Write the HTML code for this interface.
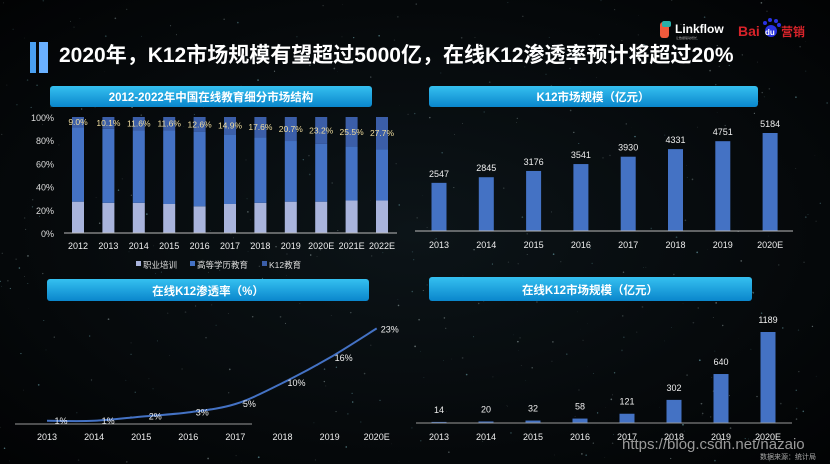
<!DOCTYPE html>
<html><head><meta charset="utf-8"><style>
html,body{margin:0;padding:0;background:#05080c;}
svg{display:block;font-family:"Liberation Sans","Noto Sans CJK SC",sans-serif;}
</style></head><body>
<svg id="s" width="830" height="464" viewBox="0 0 830 464">
<defs>
<linearGradient id="hdr" x1="0" y1="0" x2="0" y2="1"><stop offset="0" stop-color="#35c0f0"/><stop offset="1" stop-color="#0a86cc"/></linearGradient>
<radialGradient id="bg" cx="0.5" cy="0.5" r="0.7"><stop offset="0" stop-color="#0c1418"/><stop offset="1" stop-color="#020304"/></radialGradient>
</defs>
<rect width="830" height="464" fill="url(#bg)"/>
<g id="stars"></g>
<rect x="30" y="42" width="6" height="31" fill="#4a9ff0"/>
<rect x="39" y="42" width="9" height="31" fill="#6ab0ff"/>
<text x="59" y="62" fill="#fff" font-size="21" font-weight="bold">2020年，K12市场规模有望超过5000亿，在线K12渗透率预计将超过20%</text>
<g>
<rect x="660" y="22" width="9" height="16" rx="3" fill="#f05a3c"/><rect x="662" y="21" width="9" height="6" rx="2" fill="#2ab0a8"/>
<text x="675" y="33" fill="#fff" font-size="12" font-weight="bold">Linkflow</text>
<text x="676" y="39" fill="#aaa" font-size="3">让数据驱动增长</text>
</g>
<g>
<text x="738" y="36" fill="#d8232a" font-size="14" font-weight="bold">Bai</text>
<circle cx="771" cy="31" r="6" fill="#2932e1"/><circle cx="765" cy="23" r="2" fill="#2932e1"/><circle cx="770" cy="20" r="2" fill="#2932e1"/><circle cx="776" cy="21" r="2" fill="#2932e1"/><circle cx="779" cy="25" r="2" fill="#2932e1"/>
<text x="765" y="35" fill="#fff" font-size="8" font-weight="bold">du</text>
<text x="781" y="36" fill="#d8232a" font-size="12" font-weight="bold">营销</text>
</g>
<g><rect x="50" y="86" width="322" height="21" rx="3" fill="url(#hdr)"/><text x="211" y="101" fill="#fff" font-size="11.5" font-weight="bold" text-anchor="middle">2012-2022年中国在线教育细分市场结构</text></g>
<g><rect x="429" y="86" width="329" height="21" rx="3" fill="url(#hdr)"/><text x="593" y="101" fill="#fff" font-size="11.5" font-weight="bold" text-anchor="middle">K12市场规模（亿元）</text></g>
<g><rect x="47" y="279" width="322" height="22" rx="3" fill="url(#hdr)"/><text x="208" y="295" fill="#fff" font-size="11.5" font-weight="bold" text-anchor="middle">在线K12渗透率（%）</text></g>
<g><rect x="429" y="277" width="323" height="24" rx="3" fill="url(#hdr)"/><text x="590" y="294" fill="#fff" font-size="11.5" font-weight="bold" text-anchor="middle">在线K12市场规模（亿元）</text></g>
<g id="c1"></g><g id="c2"></g><g id="c3"></g><g id="c4"></g>
<text x="622" y="449" fill="#9a9a9a" font-size="15">https://blog.csdn.net/nazaio</text>
<text x="760" y="459" fill="#aaa" font-size="7">数据来源：统计局</text>
</svg>
<script>
const NS="http://www.w3.org/2000/svg";
// Chart 1 data
const years1=["2012","2013","2014","2015","2016","2017","2018","2019","2020E","2021E","2022E"];
const vocShare=[27,26,26,25,23,25,26,27,27,28,28];
const k12Share=[9.0,10.1,11.6,11.6,12.6,14.9,17.6,20.7,23.2,25.5,27.7];
const yTicks1=["0%","20%","40%","60%","80%","100%"];
// Chart 2 data
const years2=["2013","2014","2015","2016","2017","2018","2019","2020E"];
const k12Market=[2547,2845,3176,3541,3930,4331,4751,5184];
// Chart 3 data
const years3=["2013","2014","2015","2016","2017","2018","2019","2020E"];
const penetration=[1,1,2,3,5,10,16,23];
// Chart 4 data
const years4=["2013","2014","2015","2016","2017","2018","2019","2020E"];
const onlineMarket=[14,20,32,58,121,302,640,1189];

function el(tag,attrs,parent,txt){const e=document.createElementNS(NS,tag);for(const k in attrs)e.setAttribute(k,attrs[k]);if(txt!==undefined)e.textContent=txt;parent.appendChild(e);return e;}

// stars (decorative)
(function(){const g=document.getElementById('stars');let seed=7;function r(){seed=(seed*16807)%2147483647;return seed/2147483647;}
for(let i=0;i<500;i++){const c=el('circle',{cx:r()*830,cy:r()*464,r:r()*0.7+0.2,fill:r()>0.6?'#6fa8b0':'#8a9a9a',opacity:r()*0.5+0.2},g);

}})();

// Chart 1
(function(){const g=document.getElementById('c1');
const x=i=>78+i*30.4, y=v=>233-v*1.16;
yTicks1.forEach((t,i)=>{const e=el('text',{x:54,y:y(i*20)+4,fill:'#ddd','font-size':9,'text-anchor':'end'},g,t);

});
years1.forEach((yr,i)=>{
 const cx=x(i),w=12;const v=vocShare[i],k=k12Share[i],h=100-v-k;
 const b1=el('rect',{x:cx-w/2,y:y(v),width:w,height:v*1.16,fill:'#a9b4dc'},g);
 
 
 const b2=el('rect',{x:cx-w/2,y:y(v+h),width:w,height:h*1.16,fill:'#4472c4'},g);
 
 
 const b3=el('rect',{x:cx-w/2,y:y(100),width:w,height:k*1.16,fill:'#3b5ea8'},g);
 
 
 const l=el('text',{x:cx,y:y(100-k/2)+3,fill:'#f2dfa0','font-size':8.5,'text-anchor':'middle'},g,k.toFixed(1)+'%');
 
 
 const t=el('text',{x:cx,y:249,fill:'#eee','font-size':9,'text-anchor':'middle'},g,yr);
 
 });
const ax=el('line',{x1:64,y1:233,x2:397,y2:233,stroke:'#bbb','stroke-width':1},g);


[["职业培训","#a9b4dc",136],["高等学历教育","#4472c4",190],["K12教育","#3b5ea8",262]].forEach(([n,c,lx])=>{
 const lg=el('g',{},g);
 
 
 el('rect',{x:lx,y:261,width:5,height:5,fill:c},lg);el('text',{x:lx+7,y:268,fill:'#ddd','font-size':8.5},lg,n);});
})();

// Chart 2
(function(){const g=document.getElementById('c2');
const x=i=>439+i*47.3, y=v=>231-v*98/5184;
k12Market.forEach((v,i)=>{const cx=x(i);
 const b=el('rect',{x:cx-7.5,y:y(v),width:15,height:231-y(v),fill:'#4472c4'},g);
 
 
 const l=el('text',{x:cx,y:y(v)-6,fill:'#eee','font-size':9,'text-anchor':'middle'},g,String(v));
 
 
 const t=el('text',{x:cx,y:248,fill:'#eee','font-size':9,'text-anchor':'middle'},g,years2[i]);
 
 });
const ax=el('line',{x1:415,y1:231,x2:793,y2:231,stroke:'#bbb','stroke-width':1},g);


})();

// Chart 3
(function(){const g=document.getElementById('c3');
const x=i=>47+i*47.1, y=v=>425-v*4.2;
const pts=penetration.map((v,i)=>[x(i),y(v)]);
let d='M'+pts[0][0]+','+pts[0][1];
for(let i=0;i<pts.length-1;i++){const p0=pts[i-1]||pts[i],p1=pts[i],p2=pts[i+1],p3=pts[i+2]||p2;
 d+=' C'+(p1[0]+(p2[0]-p0[0])/6)+','+(p1[1]+(p2[1]-p0[1])/6)+' '+(p2[0]-(p3[0]-p1[0])/6)+','+(p2[1]-(p3[1]-p1[1])/6)+' '+p2[0]+','+p2[1];}
const ax=el('line',{x1:15,y1:424,x2:252,y2:424,stroke:'#999','stroke-width':1},g);


const ln=el('path',{d:d,fill:'none',stroke:'#4472c4','stroke-width':2},g);


penetration.forEach((v,i)=>{const cx=x(i);
 const l=el('text',{x:cx+(i==7?13:14),y:y(v)+(i==7?4:3),fill:'#eee','font-size':9,'text-anchor':'middle'},g,v+'%');
 
 
 const t=el('text',{x:cx,y:440,fill:'#eee','font-size':9,'text-anchor':'middle'},g,years3[i]);
 
 });
})();

// Chart 4
(function(){const g=document.getElementById('c4');
const x=i=>439+i*47, y=v=>423-v*91/1189;
onlineMarket.forEach((v,i)=>{const cx=x(i);
 const b=el('rect',{x:cx-7.5,y:y(v),width:15,height:423-y(v),fill:'#4472c4'},g);
 
 
 const l=el('text',{x:cx,y:y(v)-9,fill:'#eee','font-size':9,'text-anchor':'middle'},g,String(v));
 
 
 const t=el('text',{x:cx,y:440,fill:'#eee','font-size':9,'text-anchor':'middle'},g,years4[i]);
 
 });
const ax=el('line',{x1:416,y1:423,x2:792,y2:423,stroke:'#999','stroke-width':1},g);


})();
</script>
</body></html>
